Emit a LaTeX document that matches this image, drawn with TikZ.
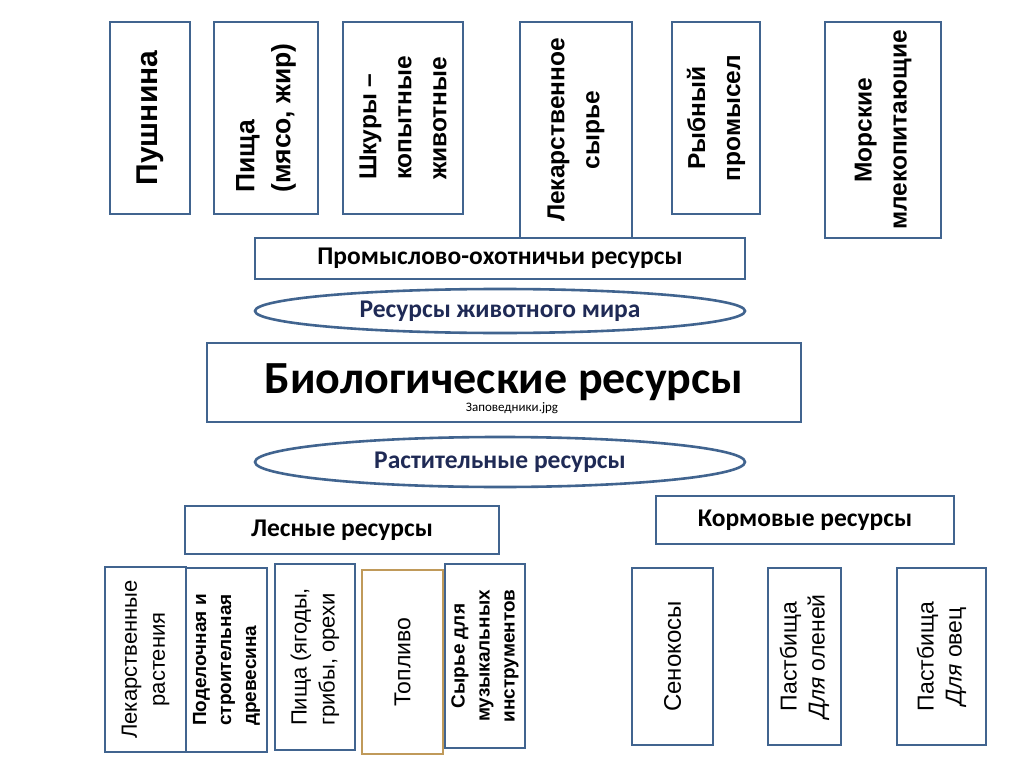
\documentclass[tikz,border=0pt]{standalone}
\usepackage{fontspec}
\setmainfont{Liberation Sans}
\newfontfamily\calibri{Carlito}
\usetikzlibrary{shapes.geometric, positioning}
\definecolor{boxline}{HTML}{41648F}
\definecolor{fuelline}{HTML}{C09A5A}
\definecolor{navytext}{HTML}{1F2A55}

\begin{document}
\begin{tikzpicture}[
    x=1pt, y=-1pt,
    box/.style={draw=boxline, line width=2pt, fill=white, inner sep=0pt, align=center},
    vbox/.style={box, rotate=90},
    oval/.style={draw=boxline, line width=2.6pt, fill=white, ellipse, inner sep=0pt,
                 text=navytext, font=\calibri\bfseries\fontsize{25.5}{30}\selectfont},
    head/.style={box, font=\calibri\bfseries\fontsize{25.5}{30}\selectfont},
    topfont/.style={font=\bfseries\fontsize{24.5}{35}\selectfont},
    lowbold/.style={font=\bfseries\fontsize{19}{25}\selectfont},
    lowtext/.style={font=\fontsize{22}{28}\selectfont}
]
\useasboundingbox[fill=white] (0,0) rectangle (1024,767);

% animal resources: top row
\node[vbox, minimum width=192, minimum height=80, font=\bfseries\fontsize{30}{36}\selectfont]
    (fur) at (150,118) {Пушнина};
\node[vbox, font=\bfseries\fontsize{26.5}{36}\selectfont, align=left, minimum width=192, minimum height=104]
    (meat) at (266,118) {Пища\\(мясо, жир)};
\node[vbox, topfont, align=left, minimum width=192, minimum height=120]
    (hides) at (403,118) {Шкуры –\\копытные\\животные};
\node[vbox, topfont, minimum width=216, minimum height=112]
    (herbs) at (576,130) {Лекарственное\\сырье};
\node[vbox, topfont, minimum width=192, minimum height=88]
    (fish) at (716,118) {Рыбный\\промысел};
\node[vbox, topfont, minimum width=216, minimum height=116]
    (marine) at (883,130) {Морские\\млекопитающие};

% hunting resources and the animal oval
\node[head, minimum width=490, minimum height=41] (hunt) at (500,258.5) {Промыслово-охотничьи ресурсы};
\node[oval, minimum width=490, minimum height=44] (fauna) at (500,311) {Ресурсы животного мира};

% centre
\node[box, minimum width=594, minimum height=79, font=\calibri\bfseries\fontsize{46}{52}\selectfont]
    (bio) at (504,382.5) {Биологические ресурсы};
\node[font=\calibri\fontsize{13}{15}\selectfont, inner sep=0pt] (wmark) at (512,408) {Заповедники.jpg};

% plant oval and its two groups
\node[oval, minimum width=490, minimum height=50] (flora) at (500,462) {Растительные ресурсы};
\node[head, minimum width=314, minimum height=48] (forest) at (342,530) {Лесные ресурсы};
\node[head, minimum width=298, minimum height=48] (fodder) at (805,520) {Кормовые ресурсы};

% forest resources: bottom row
\node[vbox, lowtext, minimum width=185, minimum height=81]
    (medplants) at (145.5,659.5) {Лекарственные\\растения};
\node[vbox, lowbold, align=left, minimum width=184, minimum height=81]
    (timber) at (226.5,660) {Поделочная и\\строительная\\древесина};
\node[vbox, lowtext, align=left, minimum width=186, minimum height=80]
    (berries) at (315,657) {Пища (ягоды,\\грибы, орехи};
\node[vbox, draw=fuelline, font=\fontsize{23}{28}\selectfont, minimum width=184, minimum height=81]
    (fuel) at (402.5,662) {Топливо};
\node[vbox, lowbold, minimum width=184, minimum height=80]
    (music) at (485,656) {Сырье для\\музыкальных\\инструментов};

% fodder resources: bottom row
\node[vbox, font=\fontsize{24}{28}\selectfont, minimum width=177, minimum height=81]
    (hay) at (672.5,656.5) {Сенокосы};
\node[vbox, font=\fontsize{23}{28}\selectfont, minimum width=177, minimum height=73]
    (deer) at (804.5,656.5) {Пастбища\\\textit{Для} оленей};
\node[vbox, font=\fontsize{23}{28}\selectfont, minimum width=177, minimum height=89]
    (sheep) at (941.5,656.5) {Пастбища\\\textit{Для} овец};

\end{tikzpicture}
\end{document}
